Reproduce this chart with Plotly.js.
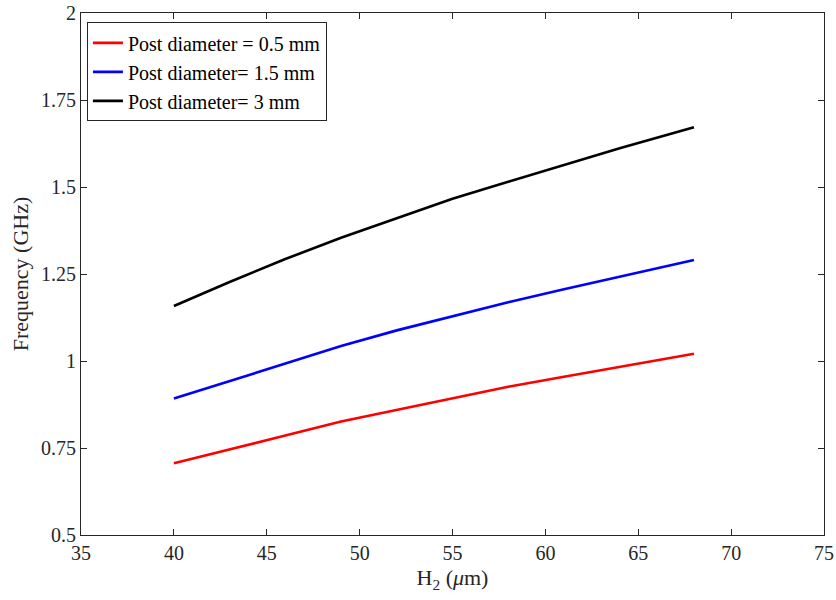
<!DOCTYPE html>
<html>
<head>
<meta charset="utf-8">
<script src="https://cdn.plot.ly/plotly-3.0.1.min.js"></script>
<style>html,body{margin:0;padding:0;background:#fff;}</style>
</head>
<body>
<div id="chart" style="width:836px;height:600px;"></div>
<script>
const h2 = [40, 43, 46, 49, 52, 55, 58, 61, 64, 68];
const freq05 = [0.706, 0.747, 0.786, 0.826, 0.859, 0.892, 0.926, 0.955, 0.984, 1.021];
const freq15 = [0.892, 0.942, 0.993, 1.043, 1.088, 1.129, 1.169, 1.206, 1.242, 1.290];
const freq3 = [1.158, 1.227, 1.293, 1.354, 1.410, 1.466, 1.515, 1.563, 1.611, 1.672];
const names = ['Post diameter = 0.5 mm', 'Post diameter= 1.5 mm', 'Post diameter= 3 mm'];
const colors = ['#ff0000', '#0000ff', '#000000'];
const xTicks = [35, 40, 45, 50, 55, 60, 65, 70, 75];
const yTicks = [0.5, 0.75, 1, 1.25, 1.5, 1.75, 2];
const yTickText = ['0.5', '0.75', '1', '1.25', '1.5', '1.75', '2'];

const series = [freq05, freq15, freq3];
const data = series.map((ys, i) => ({
  x: h2, y: ys, type: 'scatter', mode: 'lines', name: names[i],
  line: {color: colors[i], width: 2.6}
}));

const font = {family: '"Liberation Serif", "Times New Roman", serif', color: '#262626'};
const layout = {
  width: 836, height: 600,
  margin: {l: 81, r: 12, t: 13, b: 65},
  paper_bgcolor: '#fff', plot_bgcolor: '#fff',
  font: Object.assign({size: 20}, font),
  showlegend: true,
  legend: {
    x: 0.008, y: 0.982, xanchor: 'left', yanchor: 'top',
    bgcolor: '#fff', bordercolor: '#262626', borderwidth: 1,
    font: Object.assign({size: 20}, font, {color: '#000'}),
    tracegroupgap: 0, itemwidth: 30
  },
  xaxis: {
    range: [35, 75], tickvals: xTicks, ticktext: xTicks.map(String),
    ticks: 'inside', ticklen: 6, tickcolor: '#262626',
    showline: true, linecolor: '#262626', linewidth: 1, mirror: 'ticks',
    showgrid: false, zeroline: false,
    tickfont: Object.assign({size: 20}, font),
    title: {text: 'H<sub>2</sub> (<i>μ</i>m)', font: Object.assign({size: 22}, font), standoff: 6}
  },
  yaxis: {
    range: [0.5, 2], tickvals: yTicks, ticktext: yTickText,
    ticks: 'inside', ticklen: 6, tickcolor: '#262626',
    showline: true, linecolor: '#262626', linewidth: 1, mirror: 'ticks',
    showgrid: false, zeroline: false,
    tickfont: Object.assign({size: 20}, font),
    title: {text: 'Frequency (GHz)', font: Object.assign({size: 22}, font), standoff: 6}
  }
};

Plotly.newPlot('chart', data, layout, {displayModeBar: false, staticPlot: true});
</script>
</body>
</html>
